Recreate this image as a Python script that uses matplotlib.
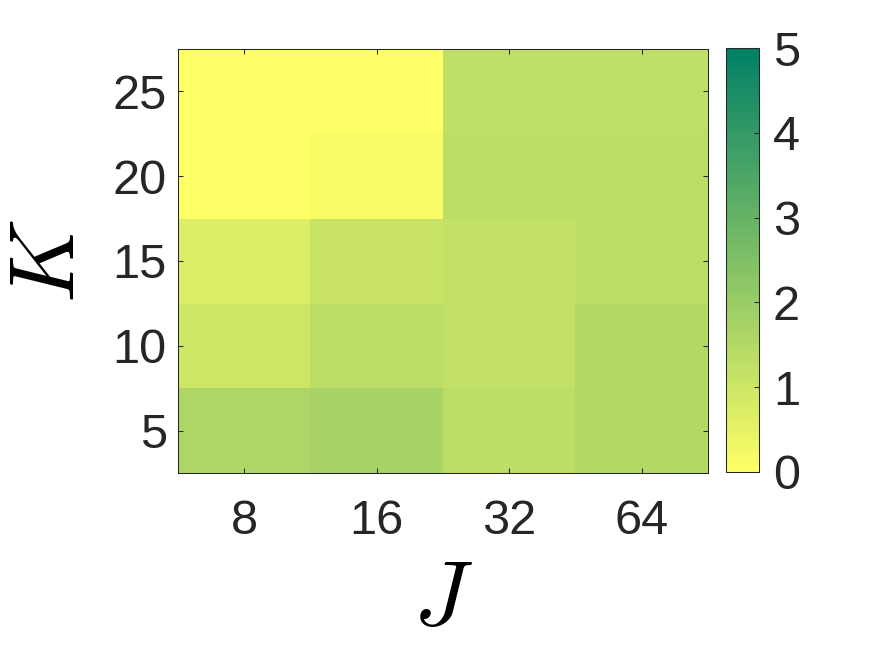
#!/usr/bin/env python3
"""
Heatmap of a metric over J (columns) and K (rows), MATLAB imagesc style.
"""

import numpy as np
import matplotlib
matplotlib.use('Agg')
import matplotlib.pyplot as plt
from matplotlib import rcParams

# ── Data ──────────────────────────────────────────────────────────────
J_vals = [8, 16, 32, 64]
K_vals = [5, 10, 15, 20, 25]

# one row per K (bottom to top), one column per J
row_K5 = [1.59, 1.71, 1.31, 1.51]
row_K10 = [0.96, 1.31, 1.16, 1.51]
row_K15 = [0.69, 1.08, 1.16, 1.31]
row_K20 = [0.00, 0.10, 1.31, 1.31]
row_K25 = [0.00, 0.00, 1.24, 1.24]

values = np.array([row_K5, row_K10, row_K15, row_K20, row_K25])

# ── Style ─────────────────────────────────────────────────────────────
EDGE = '#262626'
rcParams.update({
    'font.family': 'sans-serif',
    'font.sans-serif': ['Liberation Sans', 'DejaVu Sans'],
    'mathtext.fontset': 'cm',
    'axes.linewidth': 0.75,
    'axes.edgecolor': EDGE,
    'xtick.color': EDGE,
    'ytick.color': EDGE,
    'xtick.labelcolor': EDGE,
    'ytick.labelcolor': EDGE,
})

fig = plt.figure(figsize=(8.75, 6.56), dpi=100)
ax = fig.add_axes([0.2034, 0.279, 0.6057, 0.6463])
cax = fig.add_axes([0.8297, 0.2805, 0.0377, 0.6463])

dK = K_vals[1] - K_vals[0]
im = ax.imshow(values, cmap='summer_r', vmin=0, vmax=5,
               origin='lower', aspect='auto', interpolation='nearest',
               extent=[0.5, len(J_vals) + 0.5,
                       K_vals[0] - dK / 2, K_vals[-1] + dK / 2])

ax.set_xticks(np.arange(1, len(J_vals) + 1))
ax.set_xticklabels([str(j) for j in J_vals])
ax.set_yticks(K_vals)
ax.tick_params(direction='in', length=3.6, width=0.75,
               top=True, right=True, labelsize=35)
ax.tick_params(axis='x', pad=19)
ax.tick_params(axis='y', pad=8)

ax.set_xlabel('$J$', fontsize=66, labelpad=10)
ax.set_ylabel('$K$', fontsize=66, labelpad=14)

cb = fig.colorbar(im, cax=cax)
cb.set_ticks([0, 1, 2, 3, 4, 5])
cb.outline.set_edgecolor(EDGE)
cb.outline.set_linewidth(0.75)
cax.tick_params(direction='in', length=3.6, width=0.75,
                labelsize=35, pad=10)

fig.savefig('out.png', dpi=100)
plt.close(fig)
